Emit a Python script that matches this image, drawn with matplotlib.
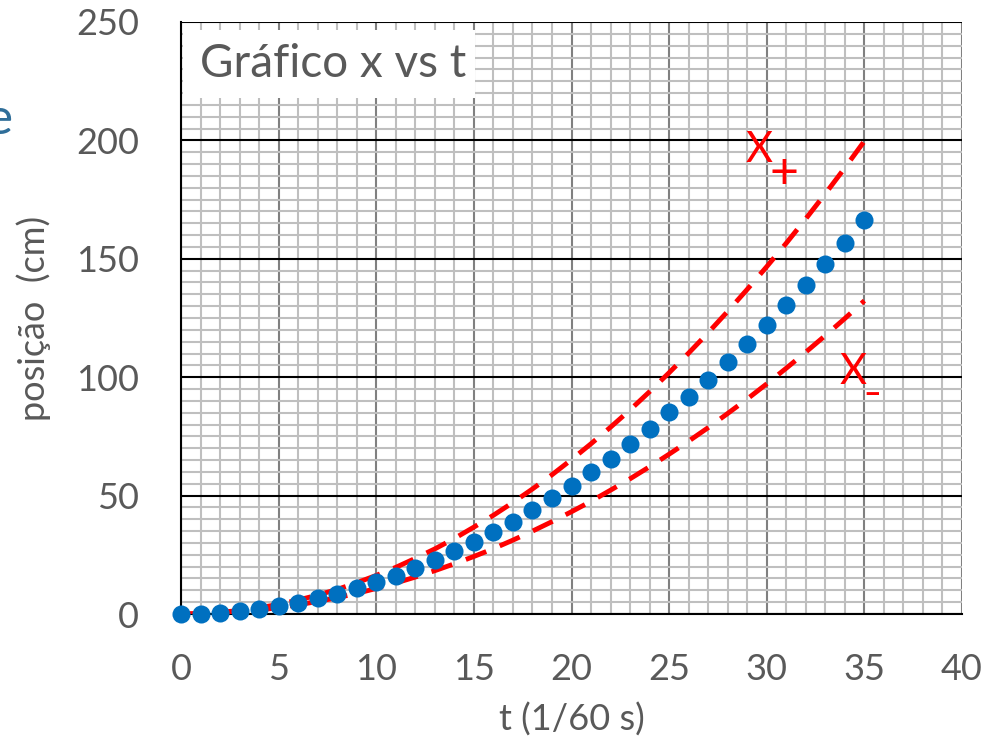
import numpy as np
import matplotlib
matplotlib.use('Agg')
from matplotlib import pyplot as plt
from matplotlib.patches import Rectangle

plt.rcParams['font.family'] = ['Lato', 'DejaVu Sans']

# dados
t = list(range(36))
posicao = [0, 0, 0.4, 1.3, 2.1, 3.4, 4.7, 6.7, 8.4, 10.9, 13.5, 16.0, 19.4, 22.8, 26.6, 30.5,
           34.6, 38.9, 43.9, 49.0, 54.1, 60.0, 65.5, 71.8, 78.1, 85.1, 91.7, 98.8, 106.4, 114.1,
           122.0, 130.5, 139.0, 147.8, 156.8, 166.4]
x_mais = [0, 0.2, 0.7, 1.5, 2.6, 4.1, 5.9, 8.0, 10.4, 13.2, 16.3, 19.7, 23.5, 27.5, 31.9, 36.7,
          41.7, 47.1, 52.8, 58.8, 65.2, 71.9, 78.9, 86.2, 93.9, 101.9, 110.2, 118.8, 127.8, 137.1,
          146.7, 156.6, 166.9, 177.5, 188.4, 199.7]
x_menos = [0, 0.1, 0.4, 1.0, 1.7, 2.7, 3.9, 5.3, 6.9, 8.7, 10.8, 13.1, 15.6, 18.3, 21.2, 24.3,
           27.6, 31.2, 35.0, 39.0, 43.2, 47.6, 52.3, 57.1, 62.2, 67.5, 73.0, 78.7, 84.7, 90.8,
           97.2, 103.8, 110.6, 117.6, 124.8, 132.3]

xticks = [0, 5, 10, 15, 20, 25, 30, 35, 40]
yticks = [0, 50, 100, 150, 200, 250]

cinza = '#595959'

fig = plt.figure(figsize=(9.94, 7.43), dpi=100)
ax = fig.add_axes([0.1821, 0.1736, 0.7857, 0.7968])

ax.set_xlim(0, 40)
ax.set_ylim(0, 250)
ax.set_xticks(xticks)
ax.set_yticks(yticks)
ax.set_xticks(np.arange(0, 41, 1), minor=True)
ax.set_yticks(np.arange(0, 251, 5), minor=True)

# grelha tipo papel milimetrico
ax.grid(which='minor', color='#BFBFBF', linewidth=1.5, zorder=0)
ax.grid(which='major', axis='x', color='#808080', linewidth=1.5, zorder=0)
ax.grid(which='major', axis='y', color='black', linewidth=1.5, zorder=0)
ax.set_axisbelow(True)

ax.tick_params(which='both', length=0)
ax.tick_params(axis='both', labelsize=26, labelcolor=cinza)
ax.tick_params(axis='y', pad=30)
ax.tick_params(axis='x', pad=28)

for s in ['top', 'right']:
    ax.spines[s].set_visible(False)
ax.spines['left'].set_color('black')
ax.spines['bottom'].set_color('black')
ax.spines['left'].set_linewidth(1.5)
ax.spines['bottom'].set_linewidth(1.5)

ax.plot(t, x_mais, color='#FF0000', linewidth=3.5, linestyle=(0, (4.5, 3)), zorder=3)
ax.plot(t, x_menos, color='#FF0000', linewidth=3.5, linestyle=(0, (4.5, 3)), zorder=3)
ax.plot(t, posicao, 'o', color='#0070C0', markersize=13, markeredgewidth=0, zorder=4,
        clip_on=False)

ax.set_xlabel('t (1/60 s)', fontsize=26, color=cinza, labelpad=12)
ax.set_ylabel('posição  (cm)', fontsize=26, color=cinza, labelpad=18)

# caixa do titulo
ax.add_patch(Rectangle((0.002, 0.872), 0.374, 0.114, transform=ax.transAxes,
                       facecolor='white', edgecolor='none', zorder=5))
ax.text(0.024, 0.929, 'Gráfico x vs t', transform=ax.transAxes, fontsize=33,
        color=cinza, va='center', ha='left', zorder=6)

# etiquetas X+ e X-
ax.text(29.6, 196, 'X', fontsize=30, color='#FF0000', va='center', ha='center', zorder=6)
ax.text(30.9, 186, '+', fontsize=36, color='#FF0000', va='center', ha='center', zorder=6)
ax.text(34.4, 102, 'X', fontsize=30, color='#FF0000', va='center', ha='center', zorder=6)
ax.text(35.4, 93, '–', fontsize=22, fontweight='bold', color='#FF0000',
        va='center', ha='center', zorder=6)

# resto de um titulo cortado na margem esquerda
fig.text(-0.014, (743 - 120) / 743, 'e', fontsize=37, color='#2F6E99', va='center', ha='left')

fig.savefig('out.png', dpi=100)
